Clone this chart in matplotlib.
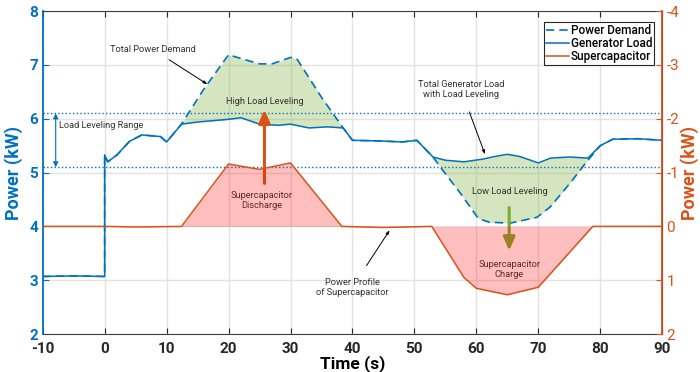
import numpy as np
import matplotlib.pyplot as plt

plt.rcParams['font.family'] = ['Roboto', 'DejaVu Sans']
plt.rcParams['axes.unicode_minus'] = False

# Power demand (kW)
time_demand = [-10, -5, 0, 0, 0.5, 2, 4, 6, 8, 9, 10, 12.4, 16, 20, 22, 25, 27, 30, 31,
               35, 38.5, 40, 44, 48, 50.4, 53, 54.6, 57.4, 60.3, 62, 65.4, 69.8, 71.9,
               75.1, 78, 80, 82, 86, 90]
demand_kw = [3.07, 3.08, 3.07, 5.33, 5.2, 5.33, 5.58, 5.7, 5.68, 5.67, 5.57, 5.9, 6.55,
             7.19, 7.12, 7.02, 7.02, 7.14, 7.12, 6.4, 5.83, 5.6, 5.59, 5.57, 5.6, 5.29,
             5.04, 4.62, 4.15, 4.08, 4.06, 4.17, 4.36, 4.8, 5.23, 5.5, 5.62, 5.63, 5.6]

# Generator load (kW) with load leveling
time_gen = [-10, -5, 0, 0, 0.5, 2, 4, 6, 8, 9, 10, 12.4, 15, 18, 20, 22, 25, 28, 30, 33,
            36, 38.5, 40, 44, 48, 50.4, 53, 55, 58, 61, 63, 65, 67, 70, 72, 75, 78, 80,
            82, 86, 90]
generator_kw = [3.07, 3.08, 3.07, 5.33, 5.2, 5.33, 5.58, 5.7, 5.68, 5.67, 5.57, 5.9, 5.94,
                5.97, 5.99, 6.02, 5.9, 5.88, 5.9, 5.83, 5.85, 5.83, 5.6, 5.59, 5.57, 5.6,
                5.29, 5.23, 5.2, 5.25, 5.3, 5.34, 5.3, 5.18, 5.27, 5.29, 5.27, 5.5, 5.62,
                5.63, 5.6]

# Supercapacitor power (kW), negative = discharge
time_sc = [-10, -5, 0, 5, 12.4, 20, 25, 30, 38.3, 45, 52.8, 58, 60, 65, 70, 78.8, 85, 90]
supercap_kw = [0, 0, 0, 0.01, 0, -1.16, -1.06, -1.18, 0, 0.02, 0, 0.95, 1.15, 1.27, 1.13, 0, 0, 0]

level_hi, level_lo = 6.1, 5.1

blue = '#0072BD'
orange = '#D95319'
green = '#77AC30'
txt = '#333333'

fig = plt.figure(figsize=(7, 3.72), dpi=100)
ax = fig.add_axes([0.061, 0.102, 0.885, 0.868])
ax2 = ax.twinx()

# fills
grid_t = np.linspace(-10, 90, 2001)
d_i = np.interp(grid_t, time_demand, demand_kw)
g_i = np.interp(grid_t, time_gen, generator_kw)
ax.fill_between(grid_t, d_i, g_i, color=green, alpha=0.3, lw=0)
ax2.fill_between(time_sc, supercap_kw, 0, color='red', alpha=0.25, lw=0)

ax.plot(time_gen, generator_kw, color=blue, lw=1.1, label='Generator Load')
ax.plot(time_demand, demand_kw, color=blue, lw=1.2, ls=(0, (5, 3)), label='Power Demand')
ax2.plot(time_sc, supercap_kw, color=orange, lw=1.1, label='Supercapacitor')

ax.axhline(level_hi, color=blue, ls=':', lw=1)
ax.axhline(level_lo, color=blue, ls=':', lw=1)

ax.set_xlim(-10, 90)
ax.set_ylim(2, 8)
ax2.set_ylim(2, -4)
ax.set_xticks(range(-10, 91, 10))
ax.set_yticks(range(2, 9))
ax2.set_yticks(range(-4, 3))
ax.grid(True, color='#e3e3e3', lw=1)
ax.set_axisbelow(True)

ax.tick_params(axis='x', direction='in', top=True, labelsize=11, colors='#262626', length=4, pad=6)
ax.tick_params(axis='y', direction='in', right=False, labelsize=11, colors=blue, length=4)
ax2.tick_params(axis='y', direction='in', labelsize=11, colors=orange, length=4, pad=3)
for lab in ax.get_xticklabels() + ax.get_yticklabels():
    lab.set_fontweight('bold')

ax.spines['left'].set_color(blue)
ax.spines['left'].set_linewidth(1.3)
ax2.spines['left'].set_visible(False)
ax2.spines['right'].set_color(orange)
ax2.spines['right'].set_linewidth(1.3)
for s in ['top', 'bottom']:
    ax.spines[s].set_color('#404040')
    ax2.spines[s].set_visible(False)

ax.set_xlabel('Time (s)', fontsize=12.5, fontweight='bold', labelpad=-1)
ax.set_ylabel('Power (kW)', fontsize=13, fontweight='bold', color=blue, labelpad=4)
ax2.set_ylabel('Power (kW)', fontsize=13, fontweight='bold', color=orange, labelpad=1)

# annotations
fs = 6.7
ax.annotate('', xy=(-7.9, level_lo), xytext=(-7.9, level_hi),
            arrowprops=dict(arrowstyle='<|-|>,head_width=0.15,head_length=0.3', color=blue, lw=0.8,
                            shrinkA=0, shrinkB=0))
ax.text(-7.4, 5.87, 'Load Leveling Range', fontsize=fs, color=txt, va='center', ha='left')

ax.annotate('Total Power Demand', xy=(16.6, 6.64), xytext=(7.8, 7.29), fontsize=fs, color=txt,
            ha='center', va='center',
            arrowprops=dict(arrowstyle='-|>,head_width=0.12,head_length=0.35', color='black', lw=0.7,
                            shrinkA=4, shrinkB=0))
ax.text(25.8, 6.33, 'High Load Leveling', fontsize=fs, color=txt, ha='center', va='center')
ax.annotate('', xy=(25.8, 6.17), xytext=(25.8, 4.8),
            arrowprops=dict(arrowstyle='-|>,head_width=0.35,head_length=0.8', color=orange, lw=2.2,
                            shrinkA=0, shrinkB=0))
ax.text(25.4, 4.49, 'Supercapacitor\nDischarge', fontsize=fs, color=txt, ha='center', va='center',
        linespacing=1.15)

ax.annotate('Total Generator Load\nwith Load Leveling', xy=(61.4, 5.34), xytext=(57.5, 6.55),
            fontsize=fs, color=txt, ha='center', va='center', linespacing=1.15,
            arrowprops=dict(arrowstyle='-|>,head_width=0.12,head_length=0.35', color='black', lw=0.7,
                            shrinkA=8, shrinkB=0))
ax.text(65.4, 4.64, 'Low Load Leveling', fontsize=fs, color=txt, ha='center', va='center')
ax.annotate('', xy=(65.3, 3.55), xytext=(65.3, 4.35),
            arrowprops=dict(arrowstyle='-|>,head_width=0.35,head_length=0.8', color=green, lw=2.2,
                            shrinkA=0, shrinkB=0))
ax.text(65.3, 3.2, 'Supercapacitor\nCharge', fontsize=fs, color=txt, ha='center', va='center',
        linespacing=1.15)

ax.annotate('Power Profile\nof Supercapacitor', xy=(46, 3.93), xytext=(40, 2.87),
            fontsize=fs, color=txt, ha='center', va='center', linespacing=1.15,
            arrowprops=dict(arrowstyle='-|>,head_width=0.12,head_length=0.35', color='black', lw=0.7,
                            shrinkA=8, shrinkB=0))

# legend on top axis
h1, l1 = ax.get_legend_handles_labels()
h2, l2 = ax2.get_legend_handles_labels()
handles = [h1[1], h1[0], h2[0]]
labels = [l1[1], l1[0], l2[0]]
leg = ax2.legend(handles, labels, loc='upper right', bbox_to_anchor=(0.987, 0.966), fontsize=8.5,
                 frameon=True, fancybox=False, edgecolor='#262626', framealpha=1,
                 handlelength=1.9, handletextpad=0.2, borderpad=0.15, labelspacing=0.0,
                 borderaxespad=0)
leg.get_frame().set_linewidth(0.8)
for t in leg.get_texts():
    t.set_fontweight('medium')

fig.savefig('out.png', dpi=100)
